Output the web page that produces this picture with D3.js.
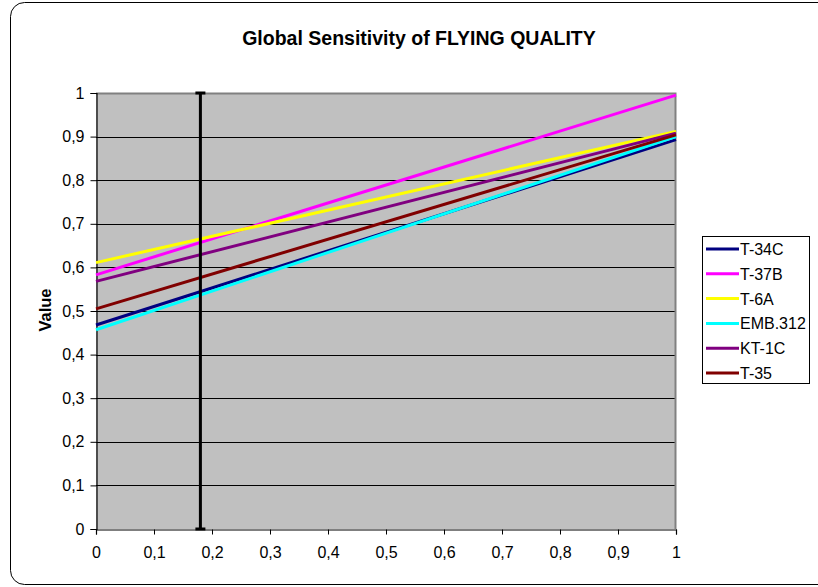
<!DOCTYPE html>
<html>
<head>
<meta charset="utf-8">
<script src="https://cdn.jsdelivr.net/npm/d3@7"></script>
<style>
  html, body { margin: 0; padding: 0; background: #fff; }
  svg { display: block; font-family: "Liberation Sans", Arial, sans-serif; }
</style>
</head>
<body>
<svg id="chart" width="818" height="587"></svg>
<script>
// Series: value at x = 0 and x = 1 for each aircraft
const seriesNames = ["T-34C", "T-37B", "T-6A", "EMB.312", "KT-1C", "T-35"];
const seriesColors = ["#000080", "#FF00FF", "#FFFF00", "#00FFFF", "#800080", "#800000"];
const startValues = [0.468, 0.583, 0.611, 0.457, 0.568, 0.505];
const endValues = [0.893, 0.995, 0.912, 0.900, 0.908, 0.904];
const xDomain = [0, 1];
const tickValues = [0, 0.1, 0.2, 0.3, 0.4, 0.5, 0.6, 0.7, 0.8, 0.9, 1];
const markerX = 0.18;
const titleText = "Global Sensitivity of FLYING QUALITY";
const yLabel = "Value";

const svg = d3.select("#chart");
const fmt = d => String(+d.toFixed(1)).replace(".", ",");
const FONT = "'Liberation Sans', Arial, sans-serif";

// Outer chart frame
svg.append("rect")
  .attr("x", 10.5).attr("y", 2.5)
  .attr("width", 830).attr("height", 582)
  .attr("rx", 14).attr("ry", 14)
  .attr("fill", "#fff").attr("stroke", "#000").attr("stroke-width", 1);

const plot = { left: 96, right: 676, top: 93, bottom: 529 };
const x = d3.scaleLinear().domain(xDomain).range([plot.left, plot.right]);
const y = d3.scaleLinear().domain([0, 1]).range([plot.bottom, plot.top]);

// Plot area background
svg.append("rect")
  .attr("x", plot.left).attr("y", plot.top)
  .attr("width", plot.right - plot.left).attr("height", plot.bottom - plot.top)
  .attr("fill", "#C0C0C0");

// Horizontal gridlines
svg.append("g").selectAll("line")
  .data(tickValues.slice(1, -1))
  .join("line")
  .attr("x1", plot.left).attr("x2", plot.right)
  .attr("y1", d => Math.round(y(d)) + 0.5).attr("y2", d => Math.round(y(d)) + 0.5)
  .attr("stroke", "#000").attr("stroke-width", 1);

// Gray frame on top and right
svg.append("path")
  .attr("d", `M${plot.left},${plot.top + 0.5}H${plot.right - 0.5}V${plot.bottom}`)
  .attr("fill", "none").attr("stroke", "#808080").attr("stroke-width", 2);

// Axes
const yAxis = d3.axisLeft(y).tickValues(tickValues).tickFormat(fmt).tickSize(6).tickPadding(6);
const xAxis = d3.axisBottom(x).tickValues(tickValues).tickFormat(fmt).tickSize(5).tickPadding(12);

const gy = svg.append("g").attr("transform", `translate(${plot.left + 0.5},0)`).call(yAxis);
const gx = svg.append("g").attr("transform", `translate(0,${plot.bottom + 0.5})`).call(xAxis);
[gx, gy].forEach(g => {
  g.attr("font-size", 16).attr("font-family", FONT);
  g.selectAll("path.domain").attr("stroke", "#000").attr("stroke-width", 1.2);
  g.selectAll(".tick line").attr("stroke", "#000");
  g.selectAll(".tick text").attr("fill", "#000");
});

// Series lines
const lineData = seriesNames.map((name, i) => ({
  name, color: seriesColors[i],
  pts: [[xDomain[0], startValues[i]], [xDomain[1], endValues[i]]]
}));
const line = d3.line().x(d => x(d[0])).y(d => y(d[1]));
svg.append("g").selectAll("path")
  .data(lineData)
  .join("path")
  .attr("d", d => line(d.pts))
  .attr("fill", "none")
  .attr("stroke", d => d.color)
  .attr("stroke-width", 3);

// Vertical marker with end caps
const mx = x(markerX);
const mg = svg.append("g").attr("stroke", "#000");
mg.append("line").attr("x1", mx).attr("x2", mx).attr("y1", y(1)).attr("y2", y(0)).attr("stroke-width", 3);
[1, 0].forEach(v => mg.append("line")
  .attr("x1", mx - 5).attr("x2", mx + 5).attr("y1", y(v)).attr("y2", y(v)).attr("stroke-width", 3));

// Title
svg.append("text")
  .attr("x", 419).attr("y", 45)
  .attr("text-anchor", "middle")
  .attr("font-size", 19.5).attr("font-weight", "bold")
  .text(titleText);

// Y axis label
svg.append("text")
  .attr("transform", "translate(51,310) rotate(-90)")
  .attr("text-anchor", "middle")
  .attr("font-size", 16.5).attr("font-weight", "bold")
  .text(yLabel);

// Legend
const legend = svg.append("g");
legend.append("rect")
  .attr("x", 702.5).attr("y", 236.5).attr("width", 107).attr("height", 147)
  .attr("fill", "#fff").attr("stroke", "#000").attr("stroke-width", 1);
const rowY = d3.scaleLinear().domain([0, seriesNames.length - 1]).range([249, 373]);
const rows = legend.selectAll("g.row").data(lineData).join("g").attr("class", "row")
  .attr("transform", (d, i) => `translate(0,${rowY(i)})`);
rows.append("line").attr("x1", 706).attr("x2", 739).attr("y1", 0).attr("y2", 0)
  .attr("stroke", d => d.color).attr("stroke-width", 3);
rows.append("text").attr("x", 740).attr("y", 6)
  .attr("font-size", 16).text(d => d.name);
</script>
</body>
</html>
